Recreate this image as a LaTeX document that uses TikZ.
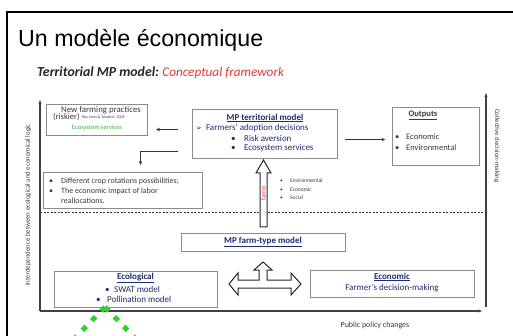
\documentclass[tikz,border=0pt]{standalone}
\usepackage{fontspec}
\setmainfont{Carlito}
\newfontfamily\titlefont{Liberation Sans}
\newfontfamily\symfont{DejaVu Sans}
\usetikzlibrary{arrows.meta}
\definecolor{navy}{HTML}{1E2C6E}
\definecolor{boxgray}{HTML}{8C8C8C}
\definecolor{ecogreen}{HTML}{3FAF3F}
\definecolor{dotgreen}{HTML}{2ECF2E}
\definecolor{framered}{HTML}{E5373A}
\definecolor{txtgray}{HTML}{3A3A3A}
\newcommand\fsz[2]{\fontsize{#1}{#2}\selectfont}
\begin{document}
\begin{tikzpicture}[x=1pt,y=-1pt,
  box/.style={draw=boxgray, line width=1pt, inner sep=0pt, anchor=north west, fill=white},
  lbl/.style={inner sep=0pt, text=txtgray},
  axisline/.style={draw=black!75, line width=1.2pt},
  conn/.style={draw=black!80, line width=1pt},
  hollow/.style={draw=black!85, line width=1pt, fill=white, line join=miter},
  greendots/.style={draw=dotgreen, line width=5pt, dash pattern=on 5.5pt off 8pt}
]
\useasboundingbox (0,0) rectangle (513,336);
\fill[white] (0,0) rectangle (513,336);
\draw[line width=1.5pt] (7,337) -- (7,12) -- (514,12);

% titles
\node[lbl, text=black, anchor=base west, font=\titlefont\fsz{23.2}{28}] (title) at (18,47) {Un modèle économique};
\node[lbl, text=black!85, anchor=base west, font=\fsz{13.8}{16}\bfseries\itshape] (sub) at (37,77) {Territorial MP model:};
\node[lbl, text=framered, anchor=base west, font=\fsz{13.2}{15}\itshape] (sub2) at ([xshift=3pt]sub.base east) {Conceptual framework};

% axes
\coordinate (O) at (40,311);
\coordinate (ytop) at (40,100);
\coordinate (xend) at (482,311);
\coordinate (rbot) at (486,307);
\coordinate (rtop) at (486,93);
\coordinate (dl) at (40,213);
\coordinate (dr) at (486,213);
\draw[axisline, -{Stealth[length=4pt,width=3pt]}] (O) -- (ytop);
\draw[axisline, -{Stealth[length=4pt,width=3pt]}] (O) -- (xend);
\draw[axisline, -{Stealth[length=4pt,width=3pt]}] (rbot) -- (rtop);
\draw[black!80, line width=1pt, dash pattern=on 2pt off 1.5pt] (dl) -- (dr);

\node[lbl, rotate=90, font=\fsz{6.8}{8}] (ylab) at (28,205) {Interdependence between ecological and economical logic};
\node[lbl, rotate=-90, font=\fsz{6.8}{8}] (rlab) at (497,146) {Collective decision-making};
\node[lbl, font=\fsz{8}{9}] (xlab) at (375,325) {Public policy changes};

% new farming practices
\node[box, minimum width=101pt, minimum height=31pt] (nfp) at (46,104) {};
\node[lbl, font=\fsz{8.8}{10}] (nfp1) at (101,110) {New farming practices};
\node[lbl, anchor=west, font=\fsz{8.5}{10}] (nfp2) at (53,117) {(riskier)};
\node[lbl, anchor=west, font=\fsz{4}{5}] (nfp3) at ([xshift=2pt]nfp2.east) {Roy Leon \& Tacadon, 2002};
\node[lbl, text=ecogreen, font=\fsz{6.5}{8}] (nfp4) at (97,128) {Ecosystem services};

% MP territorial model
\node[box, minimum width=145pt, minimum height=49pt] (mpt) at (192,109) {};
\node[lbl, text=navy, font=\fsz{9}{10}\bfseries] (mpt1) at (265,118) {\underline{MP territorial model}};
\node[lbl, text=navy, anchor=west, font=\fsz{9}{10}] (mpt2) at (196,128) {{\symfont\fsz{7}{8}➢}\hspace{4pt}Farmers' adoption decisions};
\node[lbl, text=navy, anchor=west, font=\fsz{9}{10}] (mpt3) at (231,138) {\makebox[13pt][l]{•}Risk aversion};
\node[lbl, text=navy, anchor=west, font=\fsz{9}{10}] (mpt4) at (231,148) {\makebox[13pt][l]{•}Ecosystem services};

% outputs
\node[box, minimum width=87pt, minimum height=58pt] (out) at (392,107) {};
\node[lbl, font=\fsz{8.5}{10}\bfseries] (out1) at (423,115) {\underline{Outputs}};
\node[lbl, anchor=west, font=\fsz{8.5}{10}] (out2) at (395,137) {\makebox[11pt][l]{•}Economic};
\node[lbl, anchor=west, font=\fsz{8.5}{10}] (out3) at (395,148) {\makebox[11pt][l]{•}Environmental};

% crop rotations
\node[box, minimum width=159pt, minimum height=36pt] (crop) at (43,172) {};
\node[lbl, anchor=west, font=\fsz{8}{9}] (crop1) at (49,181) {\makebox[12pt][l]{•}Different crop rotations possibilities;};
\node[lbl, anchor=west, font=\fsz{8}{9}] (crop2) at (49,191) {\makebox[12pt][l]{•}The economic impact of labor};
\node[lbl, anchor=west, font=\fsz{8}{9}] (crop3) at (61,201) {reallocations.};

% farm-type model
\node[box, minimum width=164pt, minimum height=18pt] (farm) at (181,233) {};
\node[lbl, text=navy, font=\fsz{9}{10}\bfseries] (farm1) at (263,242) {\underline{MP farm-type model}};

% ecological
\node[box, minimum width=163pt, minimum height=36pt] (ecol) at (54,271) {};
\node[lbl, text=navy, font=\fsz{9}{10}\bfseries] (ecol1) at (135.5,278) {\underline{Ecological}};
\node[lbl, text=navy, anchor=west, font=\fsz{9}{10}] (ecol2) at (105,289) {\makebox[9pt][l]{•}SWAT model};
\node[lbl, text=navy, anchor=west, font=\fsz{9}{10}] (ecol3) at (96,299) {\makebox[11pt][l]{•}Pollination model};

% economic
\node[box, minimum width=164pt, minimum height=27pt] (econ) at (310,270) {};
\node[lbl, text=navy, font=\fsz{9}{10}\bfseries] (econ1) at (392,277) {\underline{Economic}};
\node[lbl, text=navy, font=\fsz{9}{10}] (econ2) at (392,288) {Farmer's decision-making};

% small list
\node[lbl, anchor=west, font=\fsz{5.5}{6.5}] (env) at (280,181) {\makebox[10pt][l]{•}Environmental};
\node[lbl, anchor=west, font=\fsz{5.5}{6.5}] (ecn) at (280,189.5) {\makebox[10pt][l]{•}Economic};
\node[lbl, anchor=west, font=\fsz{5.5}{6.5}] (soc) at (280,198) {\makebox[10pt][l]{•}Social};

% connectors
\path ([yshift=4.5pt]mpt.west) coordinate (a1);
\draw[conn, -{Stealth[length=4pt,width=3.5pt]}, shorten <=14pt, shorten >=8pt] (a1) -- (a1 -| nfp.east);
\path ([yshift=-17.5pt]mpt.west) coordinate (e1);
\path ([xshift=17.5pt]crop.north) coordinate (e2);
\draw[conn, -{Stealth[length=4pt,width=3.5pt]}, shorten <=14pt, shorten >=7pt] (e1) -| (e2);
\path ([yshift=-5.5pt]mpt.east) coordinate (o1);
\draw[conn, -{Stealth[length=3pt,width=3pt]}, shorten <=7pt, shorten >=7pt] (o1) -- (o1 -| out.west);

% hollow arrow "farms"
\draw[hollow] (260,227) -- (260,173) -- (256,173) -- (263.5,160) -- (271,173) -- (267,173) -- (267,227) -- cycle;
\node[lbl, rotate=90, text=framered, font=\fsz{6.5}{7}] (farmslbl) at (263.5,193) {farms};

% hollow three-way arrow
\draw[hollow] (229,284) -- (238,273) -- (238,280) -- (259,280) -- (259,270) -- (254,270) -- (263,262) -- (272,270) -- (267,270) -- (267,280) -- (291,280) -- (291,273) -- (301,284) -- (291,295) -- (291,288) -- (238,288) -- (238,295) -- cycle;

% green dotted lines
\coordinate (gp) at (105,307);
\coordinate (gl) at (76,337);
\coordinate (gr) at (134,337);
\draw[greendots] (gp) -- (gl);
\draw[greendots] (gp) -- (gr);
\end{tikzpicture}
\end{document}
